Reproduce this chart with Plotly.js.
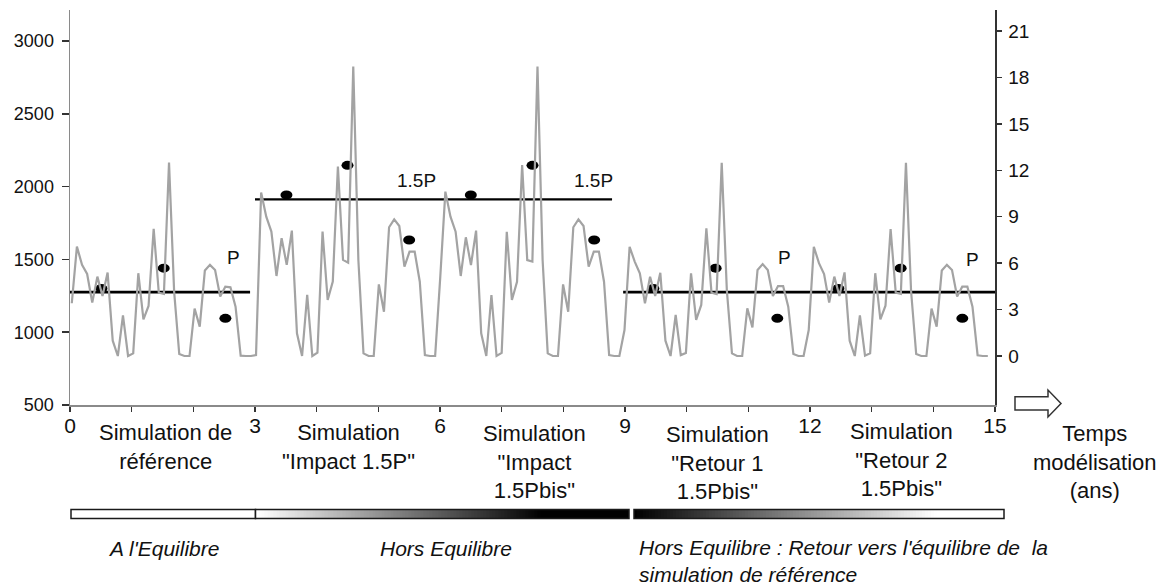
<!DOCTYPE html>
<html>
<head>
<meta charset="utf-8">
<script src="https://cdn.plot.ly/plotly-3.0.1.min.js"></script>
<style>
  html, body { margin: 0; padding: 0; background: #fff; }
  #chart { width: 1164px; height: 587px; }
</style>
</head>
<body>
<div id="chart"></div>
<script>
// ---- Data ----
// Monthly gray series (right axis), one array per 3-year simulation
const segReference   = [3.41, 7.07, 5.89, 5.30, 3.45, 5.13, 3.88, 5.39, 0.99, 0.00, 2.63, 0.00, 0.17, 5.35, 2.37, 3.23, 8.21, 4.09, 4.01, 12.50, 4.16, 0.13, 0.00, 0.00, 3.06, 1.90, 5.52, 5.89, 5.56, 3.84, 4.48, 4.44, 3.19, 0.02, 0.00, 0.00];
const segImpact      = [0.06, 10.56, 9.00, 8.04, 5.17, 7.61, 5.89, 8.10, 1.47, 0.00, 3.95, 0.00, 0.21, 8.04, 3.62, 4.81, 12.24, 6.21, 6.03, 18.71, 6.20, 0.17, 0.00, 0.00, 4.63, 2.86, 8.32, 8.83, 8.40, 5.77, 6.74, 6.74, 4.80, 0.06, 0.00, 0.00];
const segImpactBis   = [5.10, 10.62, 9.00, 8.03, 5.17, 7.67, 5.88, 8.10, 1.47, 0.00, 3.94, 0.00, 0.20, 8.03, 3.62, 4.80, 12.34, 6.20, 6.10, 18.70, 6.20, 0.17, 0.00, 0.00, 4.63, 2.86, 8.32, 8.83, 8.40, 5.77, 6.74, 6.74, 4.80, 0.06, 0.00, 0.00];
const segRetour1     = [1.68, 7.06, 6.10, 5.34, 3.40, 5.12, 3.88, 5.38, 0.99, 0.00, 2.65, 0.06, 0.20, 5.34, 2.33, 3.30, 8.25, 4.09, 4.00, 12.49, 4.26, 0.17, 0.00, 0.00, 3.08, 1.85, 5.56, 5.94, 5.56, 3.88, 4.52, 4.52, 3.19, 0.13, 0.00, 0.00];
const segRetour2     = [1.68, 7.06, 6.00, 5.30, 3.45, 5.13, 3.88, 5.40, 0.99, 0.00, 2.63, 0.02, 0.17, 5.35, 2.37, 3.25, 8.20, 4.09, 4.02, 12.49, 4.20, 0.13, 0.00, 0.00, 3.06, 1.90, 5.52, 5.89, 5.56, 3.84, 4.48, 4.48, 3.19, 0.05, 0.00, 0.00];

// Black reference levels (left axis)
const levelPX  = [0, 2.92, null, 8.97, 15];
const levelPY  = [1275, 1275, null, 1275, 1275];
const level15X = [3.0, 8.79];
const level15Y = [1912, 1912];

// Black dots (left axis)
const dotX = [0.51, 1.52, 2.52, 3.51, 4.50, 5.50, 6.50, 7.50, 8.50, 9.46, 10.47, 11.47, 12.46, 13.47, 14.47];
const dotY = [1300, 1440, 1095, 1942, 2146, 1633, 1942, 2146, 1633, 1300, 1440, 1095, 1300, 1440, 1095];

// Labels
const leftTicks  = [500, 1000, 1500, 2000, 2500, 3000];
const rightTicks = [0, 3, 6, 9, 12, 15, 18, 21];
const xTicks     = [0, 3, 6, 9, 12, 15];
const pLabels    = [{x: 2.65, y: 1510, t: 'P'}, {x: 11.59, y: 1510, t: 'P'}, {x: 14.64, y: 1500, t: 'P'},
                    {x: 5.62, y: 2045, t: '1.5P'}, {x: 8.49, y: 2045, t: '1.5P'}];
const simLabels  = ['Simulation de<br>référence', 'Simulation<br>"Impact 1.5P"', 'Simulation<br>"Impact<br>1.5Pbis"',
                    'Simulation<br>"Retour 1<br>1.5Pbis"', 'Simulation<br>"Retour 2<br>1.5Pbis"'];
const timeLabel  = 'Temps<br>modélisation<br>(ans)';
const phaseLabels = ["A l'Equilibre", 'Hors Equilibre', "Hors Equilibre : Retour vers l'équilibre de&nbsp; la<br>simulation de référence"];

// ---- Build ----
const grayValues = [].concat(segReference, segImpact, segImpactBis, segRetour1, segRetour2);
const MONTHS_PER_YEAR = 12.05;
const grayX = grayValues.map((_, m) => (m + 0.35) / MONTHS_PER_YEAR);

const FONT = 'Liberation Sans, Arial, Helvetica, sans-serif';
// plot area: x 70..995 px, y 10..405 px
const PL = 70, PR = 995, PT = 10, PB = 405;
const px2x = px => (px - PL) / (PR - PL);
const py2y = py => (PB - py) / (PB - PT);

const traces = [
  { x: levelPX, y: levelPY, type: 'scatter', mode: 'lines', xaxis: 'x', yaxis: 'y',
    line: {color: '#000', width: 2.6}, hoverinfo: 'skip', connectgaps: false },
  { x: level15X, y: level15Y, type: 'scatter', mode: 'lines', xaxis: 'x', yaxis: 'y',
    line: {color: '#000', width: 2.2}, hoverinfo: 'skip' },
  { x: grayX, y: grayValues, type: 'scatter', mode: 'lines', xaxis: 'x', yaxis: 'y2',
    line: {color: '#a3a3a3', width: 2.2}, hoverinfo: 'skip' }
];

const shapes = [];
// dots as ellipses
dotX.forEach((dx, i) => {
  shapes.push({ type: 'circle', xref: 'x', yref: 'y', layer: 'below',
    xsizemode: 'pixel', ysizemode: 'pixel', xanchor: dx, yanchor: dotY[i],
    x0: -6, x1: 6, y0: -4.5, y1: 4.5, fillcolor: '#000', line: {width: 0} });
});

// gradient bars (decoration, paper coordinates)
const BT = 509.5, BB = 518.5;
function rectPx(x0, x1, fill, line) {
  shapes.push({ type: 'rect', xref: 'paper', yref: 'paper',
    x0: px2x(x0), x1: px2x(x1), y0: py2y(BB), y1: py2y(BT),
    fillcolor: fill, line: line || {width: 0} });
}
function grayHex(v) { const h = Math.max(0, Math.min(255, Math.round(v))).toString(16).padStart(2, '0'); return '#' + h + h + h; }
// bar 1 white
rectPx(71, 255.5, '#ffffff', {color: '#1a1a1a', width: 1.5});
// bar 2: white -> black
for (let p = 255.5; p < 629; p += 3) {
  const f = Math.min(1, (p - 255.5) / (540 - 255.5));
  rectPx(p, Math.min(629, p + 3.6), grayHex(255 * (1 - f)));
}
rectPx(255.5, 629, 'rgba(0,0,0,0)', {color: '#1a1a1a', width: 1.5});
// bar 3: black -> white
for (let p = 634; p < 1004; p += 3) {
  const f = Math.min(1, (p - 634) / (935 - 634));
  rectPx(p, Math.min(1004, p + 3.6), grayHex(255 * f));
}
rectPx(634, 1004, 'rgba(0,0,0,0)', {color: '#1a1a1a', width: 1.5});

// outline arrow after the x axis
const arrowPts = [[1015, 396.7], [1048, 396.7], [1048, 390], [1061, 403.5], [1048, 417], [1048, 410], [1015, 410]];
shapes.push({ type: 'path', xref: 'paper', yref: 'paper',
  path: 'M' + arrowPts.map(p => px2x(p[0]).toFixed(5) + ',' + py2y(p[1]).toFixed(5)).join(' L') + ' Z',
  fillcolor: '#fff', line: {color: '#333', width: 1.5} });

const annotations = [];
pLabels.forEach(l => annotations.push({ x: l.x, y: l.y, xref: 'x', yref: 'y', text: l.t, showarrow: false,
  font: {family: FONT, size: 19, color: '#111'}, xanchor: 'center', yanchor: 'middle' }));

const simPos = [[165, 446.5], [348, 447], [534, 462.5], [717, 463], [901, 459.5]];
simLabels.forEach((t, i) => annotations.push({ x: px2x(simPos[i][0]), y: py2y(simPos[i][1]), xref: 'paper', yref: 'paper',
  text: t, showarrow: false, align: 'center', xanchor: 'center', yanchor: 'middle',
  font: {family: FONT, size: 22, color: '#111'} }));
annotations.push({ x: px2x(1095), y: py2y(462), xref: 'paper', yref: 'paper', text: timeLabel, showarrow: false,
  align: 'center', xanchor: 'center', yanchor: 'middle', font: {family: FONT, size: 22, color: '#111'} });

annotations.push({ x: px2x(163), y: py2y(548), xref: 'paper', yref: 'paper', text: '<i>' + phaseLabels[0] + '</i>',
  showarrow: false, xanchor: 'center', yanchor: 'middle', font: {family: FONT, size: 21, color: '#111'} });
annotations.push({ x: px2x(446), y: py2y(548), xref: 'paper', yref: 'paper', text: '<i>' + phaseLabels[1] + '</i>',
  showarrow: false, xanchor: 'center', yanchor: 'middle', font: {family: FONT, size: 21, color: '#111'} });
annotations.push({ x: px2x(637), y: py2y(561), xref: 'paper', yref: 'paper', text: '<i>' + phaseLabels[2].replace('<br>', '</i><br><i>') + '</i>',
  showarrow: false, xanchor: 'left', yanchor: 'middle', align: 'left', font: {family: FONT, size: 21, color: '#111'} });

const layout = {
  width: 1164, height: 587,
  margin: {l: PL, r: 1164 - PR, t: PT, b: 587 - PB, pad: 0},
  paper_bgcolor: '#fff', plot_bgcolor: '#fff',
  showlegend: false,
  font: {family: FONT, color: '#111'},
  xaxis: {
    range: [0, 15], tickvals: xTicks, ticktext: xTicks.map(String),
    showline: true, linecolor: '#8a8a8a', linewidth: 1.5,
    ticks: 'outside', ticklen: 5, tickwidth: 1.5, tickcolor: '#333',
    minor: {dtick: 1, tick0: 0, ticks: 'outside', ticklen: 5, tickwidth: 1.5, tickcolor: '#333', showgrid: false},
    showgrid: false, zeroline: false,
    tickfont: {family: FONT, size: 21, color: '#111'}, ticklabelstandoff: -4
  },
  yaxis: {
    range: [500, 500 + (PB - PT) * 500 / 72.8], tickvals: leftTicks, ticktext: leftTicks.map(String),
    showline: true, linecolor: '#8a8a8a', linewidth: 1.5,
    ticks: 'outside', ticklen: 7, tickwidth: 1.5, tickcolor: '#333',
    showgrid: false, zeroline: false,
    tickfont: {family: FONT, size: 18, color: '#111'}, ticklabelstandoff: 4
  },
  yaxis2: {
    overlaying: 'y', side: 'right', anchor: 'x',
    range: [-(PB - 356) / 15.476, (356 - PT) / 15.476], tickvals: rightTicks, ticktext: rightTicks.map(String),
    showline: true, linecolor: '#333', linewidth: 1.5,
    ticks: 'outside', ticklen: 5, tickwidth: 1.5, tickcolor: '#333',
    showgrid: false, zeroline: false,
    tickfont: {family: FONT, size: 19, color: '#111'}, ticklabelstandoff: 3
  },
  shapes: shapes,
  annotations: annotations
};

Plotly.newPlot('chart', traces, layout, {staticPlot: true, displayModeBar: false});
</script>
</body>
</html>
